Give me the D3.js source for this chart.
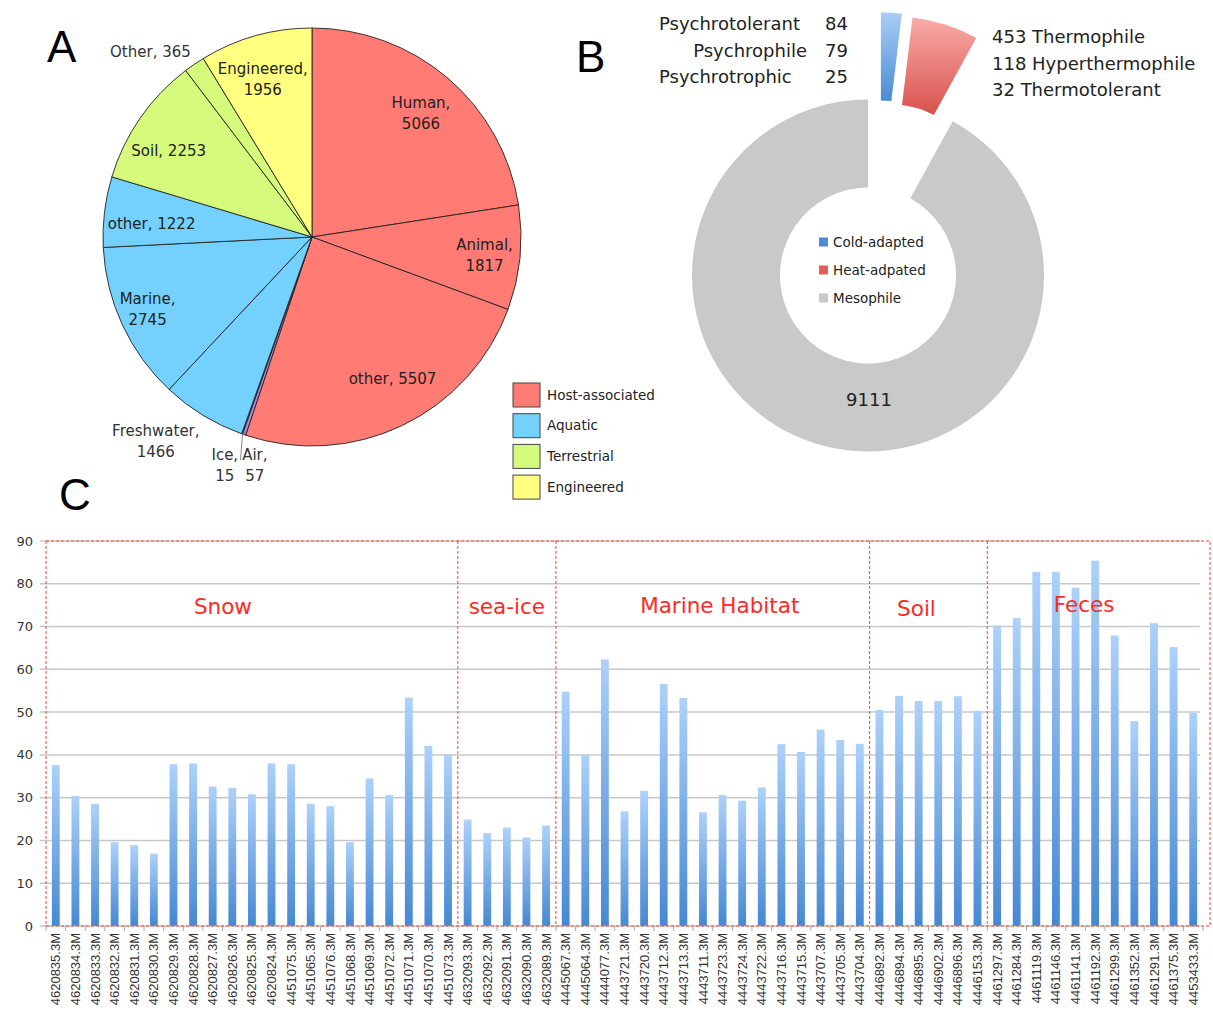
<!DOCTYPE html>
<html>
<head>
<meta charset="utf-8">
<script src="https://cdn.jsdelivr.net/npm/d3@7"></script>
<style>
  body { margin: 0; background: #fff; }
  svg text { font-family: "DejaVu Sans", sans-serif; }
</style>
</head>
<body>
<svg id="chart" width="1213" height="1014"></svg>
<script>
// ---------- data: panel A (pie of isolation sources)
const pieNames  = ["Human", "Animal", "other", "Air", "Ice", "Freshwater", "Marine", "other", "Soil", "Other", "Engineered"];
const pieValues = [5066, 1817, 5507, 57, 15, 1466, 2745, 1222, 2253, 365, 1956];
const pieGroups = ["Host-associated", "Host-associated", "Host-associated", "Air", "Aquatic", "Aquatic", "Aquatic", "Aquatic", "Terrestrial", "Terrestrial", "Engineered"];
const legendGroups = ["Host-associated", "Aquatic", "Terrestrial", "Engineered"];

// ---------- data: panel B (temperature ring)
const coldNames  = ["Psychrotolerant", "Psychrophile", "Psychrotrophic"];
const coldValues = [84, 79, 25];
const heatNames  = ["Thermophile", "Hyperthermophile", "Thermotolerant"];
const heatValues = [453, 118, 32];
const mesoValue  = 9111;
const ringNames  = ["Cold-adapted", "Heat-adpated", "Mesophile"];

// ---------- data: panel C (bars per metagenome)
const habitatNames  = ["Snow", "sea-ice", "Marine Habitat", "Soil", "Feces"];
const habitatCounts = [21, 5, 16, 6, 11];
const sampleIds = [
  "4620835.3M", "4620834.3M", "4620833.3M", "4620832.3M", "4620831.3M", "4620830.3M", "4620829.3M",
  "4620828.3M", "4620827.3M", "4620826.3M", "4620825.3M", "4620824.3M", "4451075.3M", "4451065.3M",
  "4451076.3M", "4451068.3M", "4451069.3M", "4451072.3M", "4451071.3M", "4451070.3M", "4451073.3M",
  "4632093.3M", "4632092.3M", "4632091.3M", "4632090.3M", "4632089.3M",
  "4445067.3M", "4445064.3M", "4444077.3M", "4443721.3M", "4443720.3M", "4443712.3M", "4443713.3M",
  "4443711.3M", "4443723.3M", "4443724.3M", "4443722.3M", "4443716.3M", "4443715.3M", "4443707.3M",
  "4443705.3M", "4443704.3M",
  "4446892.3M", "4446894.3M", "4446895.3M", "4446902.3M", "4446896.3M", "4446153.3M",
  "4461297.3M", "4461284.3M", "4461119.3M", "4461146.3M", "4461141.3M", "4461192.3M", "4461299.3M",
  "4461352.3M", "4461291.3M", "4461375.3M", "4453433.3M"
];
const sampleValues = [
  37.6, 30.4, 28.6, 19.6, 18.9, 16.9, 37.8, 38.0, 32.6, 32.3, 30.8, 38.0, 37.8, 28.6, 28.0, 19.6, 34.5, 30.6, 53.4, 42.1, 40.1,
  24.9, 21.7, 23.0, 20.7, 23.5,
  54.8, 40.0, 62.3, 26.8, 31.6, 56.6, 53.3, 26.6, 30.6, 29.3, 32.4, 42.5, 40.7, 45.9, 43.5, 42.6,
  50.5, 53.8, 52.6, 52.6, 53.7, 50.3,
  70.2, 72.0, 82.8, 82.8, 79.1, 85.4, 67.9, 47.9, 70.8, 65.2, 49.8
];
const yTicks = [0, 10, 20, 30, 40, 50, 60, 70, 80, 90];

// ---------- styles
const groupColor = {
  "Host-associated": "#ff7b74",
  "Aquatic": "#74d1fd",
  "Terrestrial": "#d5f97b",
  "Engineered": "#ffff80",
  "Air": "#a58ae0"
};

const svg = d3.select("#chart");
const defs = svg.append("defs");

function vGrad(id, c0, c1) {
  const g = defs.append("linearGradient").attr("id", id)
    .attr("x1", 0).attr("y1", 0).attr("x2", 0).attr("y2", 1);
  g.append("stop").attr("offset", "0%").attr("stop-color", c0);
  g.append("stop").attr("offset", "100%").attr("stop-color", c1);
}
vGrad("barGrad", "#add1fa", "#4688d3");
vGrad("coldGrad", "#a9cdf6", "#4a8cd4");
vGrad("heatGrad", "#f9aca9", "#d7514c");

// panel letters
[["A", 47, 62], ["B", 576, 72], ["C", 59, 510]].forEach(p => {
  svg.append("text").attr("x", p[1]).attr("y", p[2]).text(p[0])
    .style("font-family", "Liberation Sans, Arial, sans-serif")
    .style("font-size", "44px").attr("fill", "#000");
});

// ================= A: pie
const pieR = 209;
const gA = svg.append("g").attr("transform", "translate(312,237)");
const pieData = pieNames.map((n, i) => ({name: n, value: pieValues[i], group: pieGroups[i]}));
const arcsA = d3.pie().sort(null).value(d => d.value)(pieData);
const arcA = d3.arc().innerRadius(0).outerRadius(pieR);

gA.selectAll("path.slice")
  .data(arcsA)
  .enter().append("path")
    .attr("class", "slice")
    .attr("d", arcA)
    .attr("fill", d => groupColor[d.data.group])
    .attr("stroke", "#222")
    .attr("stroke-width", 0.9);

// label placement (radius factor, angle tweak in degrees)
const pieLabelLayout = [
  {r: 0.79, da: 0.7},
  {r: 0.83, da: 0.3},
  {r: 0.78, da: -4, one: true},
  {r: 1.125, da: -4.9, out: true},
  {r: 1.167, da: 1.4, out: true},
  {r: 1.23, da: 6, out: true},
  {r: 0.86, da: 1},
  {r: 0.77, da: -2.3, one: true},
  {r: 0.80, da: -3.8, one: true},
  {r: 1.06, da: 1.1, one: true, anchor: "end", out: true},
  {r: 0.79, da: -1.7}
];

function polar(r, deg) {
  const a = deg * Math.PI / 180;
  return [r * Math.sin(a), -r * Math.cos(a)];
}

arcsA.forEach((d, i) => {
  const L = pieLabelLayout[i];
  const mid = (d.startAngle + d.endAngle) / 2 * 180 / Math.PI + L.da;
  const p = polar(pieR * L.r, mid);
  const t = gA.append("text")
    .attr("x", p[0]).attr("y", p[1])
    .attr("text-anchor", L.anchor || "middle")
    .attr("fill", L.out ? "#333" : "#222")
    .style("font-size", "15px");
  if (L.one) {
    t.attr("dy", "0.35em").text(d.data.name + ", " + d.data.value);
  } else {
    t.append("tspan").attr("x", p[0]).attr("dy", "-0.35em").text(d.data.name + ",");
    t.append("tspan").attr("x", p[0]).attr("dy", "1.4em").text(d.data.value);
  }
});

// leader line for the two tiny slices
const edge = polar(pieR, arcsA[3].endAngle * 180 / Math.PI);
gA.append("line")
  .attr("x1", edge[0]).attr("y1", edge[1])
  .attr("x2", edge[0] - 2).attr("y2", edge[1] + 26)
  .attr("stroke", "#888").attr("stroke-width", 1);

// legend A
const legA = svg.append("g").attr("transform", "translate(513,383)");
legendGroups.forEach((g, i) => {
  legA.append("rect")
    .attr("x", 0).attr("y", i * 30.7)
    .attr("width", 27).attr("height", 24)
    .attr("fill", groupColor[g]).attr("stroke", "#444").attr("stroke-width", 1);
  legA.append("text")
    .attr("x", 34).attr("y", i * 30.7 + 12).attr("dy", "0.35em")
    .attr("fill", "#222").style("font-size", "13.5px").text(g);
});

// ================= B: ring
const ringValues = [d3.sum(coldValues), d3.sum(heatValues), mesoValue];
const gB = svg.append("g").attr("transform", "translate(868,275.5)");
const ringArcs = d3.pie().sort(null)(ringValues);
const ringArc = d3.arc().innerRadius(88).outerRadius(176);
const ringFill = ["url(#coldGrad)", "url(#heatGrad)", "#c9c9c9"];
const explode = [{d: 88, tilt: 5}, {d: 86.5, tilt: -2}, {d: 0, tilt: 0}];

gB.selectAll("path.ring")
  .data(ringArcs)
  .enter().append("path")
    .attr("class", "ring")
    .attr("d", ringArc)
    .attr("fill", (d, i) => ringFill[i])
    .attr("transform", (d, i) => {
      const mid = (d.startAngle + d.endAngle) / 2 * 180 / Math.PI + explode[i].tilt;
      const p = polar(explode[i].d, mid);
      return "translate(" + p[0] + "," + p[1] + ")";
    });

gB.append("text")
  .attr("x", 1).attr("y", 124).attr("dy", "0.35em")
  .attr("text-anchor", "middle").attr("fill", "#222")
  .style("font-size", "18px").text(mesoValue);

// legend inside ring
const legColors = ["#4a8cd6", "#e0605b", "#c9c9c9"];
ringNames.forEach((n, i) => {
  gB.append("rect").attr("x", -49).attr("y", -38 + i * 28)
    .attr("width", 9).attr("height", 9).attr("fill", legColors[i]);
  gB.append("text").attr("x", -35).attr("y", -33.5 + i * 28).attr("dy", "0.35em")
    .attr("fill", "#222").style("font-size", "13.5px").text(n);
});

// cold / heat breakdown
const coldAnchor = ["start", "end", "start"];
const coldX = [659, 807, 659];
coldNames.forEach((n, i) => {
  svg.append("text").attr("x", coldX[i]).attr("y", 30 + i * 26.5)
    .attr("text-anchor", coldAnchor[i]).attr("fill", "#222")
    .style("font-size", "18px").text(n);
  svg.append("text").attr("x", 848).attr("y", 30 + i * 26.5)
    .attr("text-anchor", "end").attr("fill", "#222")
    .style("font-size", "18px").text(coldValues[i]);
});
heatNames.forEach((n, i) => {
  svg.append("text").attr("x", 992).attr("y", 43 + i * 26.5)
    .attr("fill", "#222").style("font-size", "18px")
    .text(heatValues[i] + " " + n);
});

// ================= C: bars
const plotL = 46, plotR = 1203, plotB = 926, plotT = 541;
const x = d3.scaleBand().domain(sampleIds).range([plotL, plotR]).paddingInner(0.6).paddingOuter(0.3);
const y = d3.scaleLinear().domain([0, 90]).range([plotB, plotT]);
const gC = svg.append("g");

// gridlines
gC.selectAll("line.grid")
  .data(yTicks.filter(t => t > 0))
  .enter().append("line")
    .attr("class", "grid")
    .attr("x1", 40).attr("x2", 1200)
    .attr("y1", d => y(d)).attr("y2", d => y(d))
    .attr("stroke", "#c8c8c8").attr("stroke-width", 1.5);

gC.selectAll("text.ytick")
  .data(yTicks)
  .enter().append("text")
    .attr("class", "ytick")
    .attr("x", 33).attr("y", d => y(d)).attr("dy", "0.35em")
    .attr("text-anchor", "end").attr("fill", "#333")
    .style("font-size", "13px")
    .text(d => d);

// bars
gC.selectAll("rect.bar")
  .data(sampleIds)
  .enter().append("rect")
    .attr("class", "bar")
    .attr("x", d => x(d))
    .attr("width", x.bandwidth())
    .attr("y", (d, i) => y(sampleValues[i]))
    .attr("height", (d, i) => plotB - y(sampleValues[i]))
    .attr("fill", "url(#barGrad)");

// axis line and ticks between bars
gC.append("line").attr("x1", 40).attr("x2", 1200).attr("y1", plotB).attr("y2", plotB)
  .attr("stroke", "#aaa").attr("stroke-width", 1);
gC.selectAll("line.xtick")
  .data(sampleIds.concat(["end"]))
  .enter().append("line")
    .attr("class", "xtick")
    .attr("x1", (d, i) => plotL + i * x.step()).attr("x2", (d, i) => plotL + i * x.step())
    .attr("y1", plotB).attr("y2", plotB + 5)
    .attr("stroke", "#aaa");

gC.selectAll("text.xlab")
  .data(sampleIds)
  .enter().append("text")
    .attr("class", "xlab")
    .attr("transform", d => "translate(" + (x(d) + x.bandwidth() / 2) + "," + (plotB + 7) + ") rotate(-90)")
    .attr("dy", "0.35em")
    .attr("text-anchor", "end").attr("fill", "#333")
    .style("font-family", "Liberation Sans, Arial, sans-serif")
    .style("font-size", "13px")
    .text(d => d);

// red dashed habitat frames
gC.append("rect")
  .attr("x", plotL).attr("y", plotT).attr("width", 1210 - plotL).attr("height", plotB - plotT)
  .attr("fill", "none").attr("stroke", "#ff4136").attr("stroke-width", 1)
  .attr("stroke-dasharray", "3,2");

const bounds = d3.cumsum(habitatCounts);
const labelShift = [-29, 0, 7, -12, -11];
const labelBase = [614, 614, 613, 616, 612];
habitatNames.forEach((h, i) => {
  const x0 = plotL + (i === 0 ? 0 : bounds[i - 1]) * x.step();
  const x1 = plotL + bounds[i] * x.step();
  if (i > 0) {
    gC.append("line").attr("x1", x0).attr("x2", x0).attr("y1", plotT).attr("y2", plotB)
      .attr("stroke", "#ff4136").attr("stroke-width", 1).attr("stroke-dasharray", "3,2");
  }
  gC.append("text")
    .attr("x", (x0 + x1) / 2 + labelShift[i]).attr("y", labelBase[i])
    .attr("text-anchor", "middle").attr("fill", "#ff2a1f")
    .style("font-size", "21.5px").text(h);
});
</script>
</body>
</html>
